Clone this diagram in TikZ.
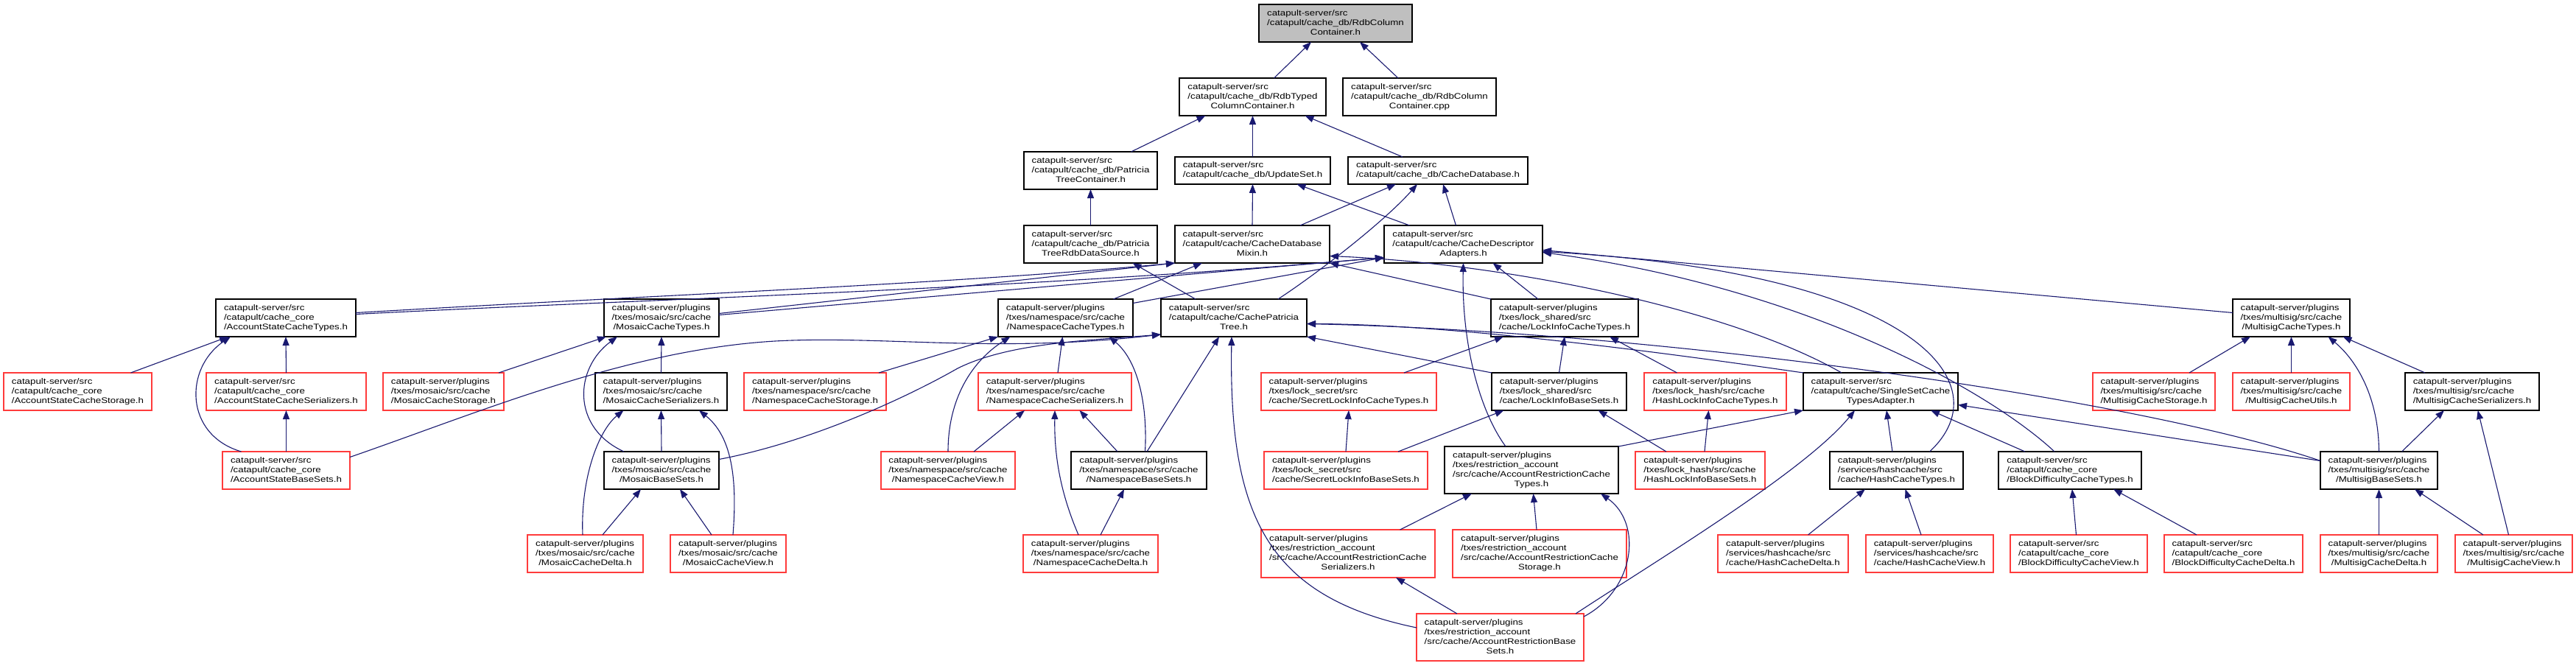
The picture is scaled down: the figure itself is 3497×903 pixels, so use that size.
\documentclass[tikz,border=0pt]{standalone}
\usepackage{fontspec}
\setmainfont{Liberation Sans}[FakeStretch=1.21]
\usetikzlibrary{arrows.meta}
\definecolor{edgeblue}{HTML}{191970}
\definecolor{boxred}{HTML}{FF3B3B}
\definecolor{grayfill}{HTML}{BFBFBF}
\newcommand\lbl[2]{\begin{tabular}{@{}l@{}}#1\\\multicolumn{1}{@{}c@{}}{#2}\end{tabular}}
\newcommand\dnode[7]{\node[#1,minimum width={(#4)-(#3)},minimum height={(#6)-(#5)}] (#2) at ({((#3)+(#4))/2},{((#5)+(#6))/2}) {#7};}
\tikzset{
  nb/.style={draw=black, fill=white, line width=1.3pt, inner sep=0pt, outer sep=0pt, font=\fontsize{11}{13}\selectfont},
  nr/.style={nb, draw=boxred},
  ng/.style={nb, fill=grayfill},
  dep/.style={draw=edgeblue, line width=1.1pt, -{Triangle[length=12pt,width=9pt]}}
}
\begin{document}
\begin{tikzpicture}[x=1pt,y=-1pt]
\useasboundingbox[fill=white] (0,0) rectangle (3497,903);
% row 1-4
\dnode{ng}{A}{1709}{1917}{6}{57}{\lbl{catapult-server/src\\/catapult/cache\_db/RdbColumn}{Container.h}}
\dnode{nb}{B}{1601}{1800}{106}{157}{\lbl{catapult-server/src\\/catapult/cache\_db/RdbTyped}{ColumnContainer.h}}
\dnode{nb}{C}{1823}{2031}{106}{157}{\lbl{catapult-server/src\\/catapult/cache\_db/RdbColumn}{Container.cpp}}
\dnode{nb}{D}{1390}{1571}{206}{257}{\lbl{catapult-server/src\\/catapult/cache\_db/Patricia}{TreeContainer.h}}
\dnode{nb}{E}{1595}{1806}{213}{250}{\lbl{catapult-server/src}{/catapult/cache\_db/UpdateSet.h}}
\dnode{nb}{F}{1830}{2074}{213}{250}{\lbl{catapult-server/src}{/catapult/cache\_db/CacheDatabase.h}}
\dnode{nb}{G}{1390}{1571}{306}{357}{\lbl{catapult-server/src\\/catapult/cache\_db/Patricia}{TreeRdbDataSource.h}}
\dnode{nb}{H}{1595}{1805}{306}{357}{\lbl{catapult-server/src\\/catapult/cache/CacheDatabase}{Mixin.h}}
\dnode{nb}{I}{1879}{2094}{306}{357}{\lbl{catapult-server/src\\/catapult/cache/CacheDescriptor}{Adapters.h}}
% row 5
\dnode{nb}{J}{293}{483}{406}{457}{\lbl{catapult-server/src\\/catapult/cache\_core}{/AccountStateCacheTypes.h}}
\dnode{nb}{K}{820}{976}{406}{457}{\lbl{catapult-server/plugins\\/txes/mosaic/src/cache}{/MosaicCacheTypes.h}}
\dnode{nb}{L}{1355}{1538}{406}{457}{\lbl{catapult-server/plugins\\/txes/namespace/src/cache}{/NamespaceCacheTypes.h}}
\dnode{nb}{M}{1576}{1774}{406}{457}{\lbl{catapult-server/src\\/catapult/cache/CachePatricia}{Tree.h}}
\dnode{nb}{N}{2024}{2224}{406}{457}{\lbl{catapult-server/plugins\\/txes/lock\_shared/src}{/cache/LockInfoCacheTypes.h}}
\dnode{nb}{O}{3031}{3190}{406}{457}{\lbl{catapult-server/plugins\\/txes/multisig/src/cache}{/MultisigCacheTypes.h}}
% row 6
\dnode{nr}{P}{5}{206}{506}{557}{\lbl{catapult-server/src\\/catapult/cache\_core}{/AccountStateCacheStorage.h}}
\dnode{nr}{Q}{280}{497}{506}{557}{\lbl{catapult-server/src\\/catapult/cache\_core}{/AccountStateCacheSerializers.h}}
\dnode{nr}{R}{520}{684}{506}{557}{\lbl{catapult-server/plugins\\/txes/mosaic/src/cache}{/MosaicCacheStorage.h}}
\dnode{nb}{S}{808}{987}{506}{557}{\lbl{catapult-server/plugins\\/txes/mosaic/src/cache}{/MosaicCacheSerializers.h}}
\dnode{nr}{T}{1010}{1203}{506}{557}{\lbl{catapult-server/plugins\\/txes/namespace/src/cache}{/NamespaceCacheStorage.h}}
\dnode{nr}{U}{1328}{1536}{506}{557}{\lbl{catapult-server/plugins\\/txes/namespace/src/cache}{/NamespaceCacheSerializers.h}}
\dnode{nr}{V}{1712}{1950}{506}{557}{\lbl{catapult-server/plugins\\/txes/lock\_secret/src}{/cache/SecretLockInfoCacheTypes.h}}
\dnode{nb}{W}{2025}{2208}{506}{557}{\lbl{catapult-server/plugins\\/txes/lock\_shared/src}{/cache/LockInfoBaseSets.h}}
\dnode{nr}{X}{2232}{2425}{506}{557}{\lbl{catapult-server/plugins\\/txes/lock\_hash/src/cache}{/HashLockInfoCacheTypes.h}}
\dnode{nb}{Y}{2448}{2658}{506}{557}{\lbl{catapult-server/src\\/catapult/cache/SingleSetCache}{TypesAdapter.h}}
\dnode{nr}{Z}{2841}{3007}{506}{557}{\lbl{catapult-server/plugins\\/txes/multisig/src/cache}{/MultisigCacheStorage.h}}
\dnode{nr}{AA}{3031}{3190}{506}{557}{\lbl{catapult-server/plugins\\/txes/multisig/src/cache}{/MultisigCacheUtils.h}}
\dnode{nb}{AB}{3265}{3447}{506}{557}{\lbl{catapult-server/plugins\\/txes/multisig/src/cache}{/MultisigCacheSerializers.h}}
% row 7
\dnode{nr}{AC}{302}{475}{613}{664}{\lbl{catapult-server/src\\/catapult/cache\_core}{/AccountStateBaseSets.h}}
\dnode{nb}{AD}{820}{976}{613}{664}{\lbl{catapult-server/plugins\\/txes/mosaic/src/cache}{/MosaicBaseSets.h}}
\dnode{nr}{AE}{1196}{1378}{613}{664}{\lbl{catapult-server/plugins\\/txes/namespace/src/cache}{/NamespaceCacheView.h}}
\dnode{nb}{AF}{1454}{1638}{613}{664}{\lbl{catapult-server/plugins\\/txes/namespace/src/cache}{/NamespaceBaseSets.h}}
\dnode{nr}{AG}{1716}{1938}{613}{664}{\lbl{catapult-server/plugins\\/txes/lock\_secret/src}{/cache/SecretLockInfoBaseSets.h}}
\dnode{nb}{AH}{1961}{2197}{606}{670}{\lbl{catapult-server/plugins\\/txes/restriction\_account\\/src/cache/AccountRestrictionCache}{Types.h}}
\dnode{nr}{AI}{2220}{2396}{613}{664}{\lbl{catapult-server/plugins\\/txes/lock\_hash/src/cache}{/HashLockInfoBaseSets.h}}
\dnode{nb}{AJ}{2484}{2665}{613}{664}{\lbl{catapult-server/plugins\\/services/hashcache/src}{/cache/HashCacheTypes.h}}
\dnode{nb}{AK}{2713}{2907}{613}{664}{\lbl{catapult-server/src\\/catapult/cache\_core}{/BlockDifficultyCacheTypes.h}}
\dnode{nb}{AL}{3150}{3309}{613}{664}{\lbl{catapult-server/plugins\\/txes/multisig/src/cache}{/MultisigBaseSets.h}}
% row 8
\dnode{nr}{AM}{716}{873}{726}{777}{\lbl{catapult-server/plugins\\/txes/mosaic/src/cache}{/MosaicCacheDelta.h}}
\dnode{nr}{AN}{910}{1067}{726}{777}{\lbl{catapult-server/plugins\\/txes/mosaic/src/cache}{/MosaicCacheView.h}}
\dnode{nr}{AO}{1389}{1572}{726}{777}{\lbl{catapult-server/plugins\\/txes/namespace/src/cache}{/NamespaceCacheDelta.h}}
\dnode{nr}{AP}{1712}{1948}{719}{784}{\lbl{catapult-server/plugins\\/txes/restriction\_account\\/src/cache/AccountRestrictionCache}{Serializers.h}}
\dnode{nr}{AQ}{1972}{2208}{719}{784}{\lbl{catapult-server/plugins\\/txes/restriction\_account\\/src/cache/AccountRestrictionCache}{Storage.h}}
\dnode{nr}{AR}{2332}{2509}{726}{777}{\lbl{catapult-server/plugins\\/services/hashcache/src}{/cache/HashCacheDelta.h}}
\dnode{nr}{AS}{2533}{2706}{726}{777}{\lbl{catapult-server/plugins\\/services/hashcache/src}{/cache/HashCacheView.h}}
\dnode{nr}{AT}{2729}{2915}{726}{777}{\lbl{catapult-server/src\\/catapult/cache\_core}{/BlockDifficultyCacheView.h}}
\dnode{nr}{AU}{2938}{3126}{726}{777}{\lbl{catapult-server/src\\/catapult/cache\_core}{/BlockDifficultyCacheDelta.h}}
\dnode{nr}{AV}{3150}{3309}{726}{777}{\lbl{catapult-server/plugins\\/txes/multisig/src/cache}{/MultisigCacheDelta.h}}
\dnode{nr}{AW}{3333}{3492}{726}{777}{\lbl{catapult-server/plugins\\/txes/multisig/src/cache}{/MultisigCacheView.h}}
% row 9
\dnode{nr}{AX}{1923}{2150}{833}{897}{\lbl{catapult-server/plugins\\/txes/restriction\_account\\/src/cache/AccountRestrictionBase}{Sets.h}}

% ---------- edges (child -> parent) ----------
\draw[dep] ([xshift=29]B.north) -- ([xshift=-33]A.south);
\draw[dep] ([xshift=-29]C.north) -- ([xshift=33]A.south);
\draw[dep] ([xshift=55]D.north) -- ([xshift=-64]B.south);
\draw[dep] (E.north) -- (B.south);
\draw[dep] ([xshift=-48]F.north) -- ([xshift=71]B.south);
\draw[dep] (G.north) -- (D.south);
\draw[dep] (H.north) -- (E.south);
\draw[dep] ([xshift=-73]I.north) -- ([xshift=60]E.south);
\draw[dep] ([xshift=65]H.north) -- ([xshift=-57]F.south);
\draw[dep] ([xshift=-10]I.north) -- ([xshift=7]F.south);
\draw[dep] ([xshift=60]M.north) .. controls (1790,370) and (1880,300) .. ([xshift=-28]F.south);
\draw[dep] ([xshift=-52]M.north) -- ([xshift=57]G.south);
% into H and I from row 5
\draw[dep] ([yshift=7]J.east) .. controls (900,400) and (1300,385) .. (H.south west);
\draw[dep] ([yshift=5]J.east) .. controls (900,405) and (1400,392) .. ([yshift=-18]I.west);
\draw[dep] ([yshift=6]K.east) -- (H.south west);
\draw[dep] ([yshift=4]K.east) -- ([yshift=-18]I.west);
\draw[dep] ([xshift=65]L.north) -- ([xshift=-68]H.south);
\draw[dep] ([yshift=20]L.east) -- ([yshift=-18]I.west);
\draw[dep] (N.north west) -- (H.south east);
\draw[dep] ([xshift=-53]Y.north) .. controls (2350,420) and (2050,358) .. ([yshift=-16]H.east);
\draw[dep] ([xshift=-36]N.north) -- ([xshift=40]I.south);
\draw[dep] ([xshift=-35]AH.north) .. controls (2010,560) and (1984,470) .. (I.south);
\draw[dep] ([yshift=7]O.west) -- ([yshift=-8]I.east);
\draw[dep] ([xshift=45]AJ.north) .. controls (2720,520) and (2600,370) .. ([yshift=-10]I.east);
\draw[dep] ([xshift=-21]AK.north) .. controls (2700,530) and (2450,390) .. ([yshift=-11]I.east);
% into M
\draw[dep] ([yshift=18]AC.east) .. controls (650,560) and (850,475) .. (1052,463) .. controls (1200,455) and (1350,480) .. ([yshift=3]M.south west);
\draw[dep] ([yshift=15]AD.east) .. controls (1100,600) and (1230,540) .. (1300,500) .. controls (1370,465) and (1480,462) .. ([yshift=3]M.south west);
\draw[dep] ([xshift=11]AF.north) -- ([xshift=-20]M.south);
\draw[dep] ([yshift=13]AX.west) .. controls (1720,810) and (1668,700) .. ([xshift=-3]M.south);
\draw[dep] (W.north west) -- (M.south east);
\draw[dep] (Y.north west) .. controls (2200,470) and (1950,440) .. ([yshift=-8]M.east);
\draw[dep] ([yshift=13]AL.west) .. controls (2900,540) and (2250,450) .. ([yshift=-8]M.east);
\draw[dep] ([yshift=13]AL.west) -- ([yshift=-18]Y.east);
% lock info
\draw[dep] ([xshift=75]V.north) -- ([xshift=-83]N.south);
\draw[dep] (W.north) -- (N.south);
\draw[dep] ([xshift=-52]X.north) -- ([xshift=61]N.south);
\draw[dep] (AG.north) -- (V.south);
\draw[dep] ([xshift=71]AG.north) -- ([xshift=-75]W.south);
\draw[dep] ([xshift=-46]AI.north) -- ([xshift=53]W.south);
\draw[dep] ([xshift=6]AI.north) -- ([xshift=-9]X.south);
% account state
\draw[dep] ([xshift=72]P.north) -- ([xshift=-78]J.south);
\draw[dep] (Q.north) -- (J.south);
\draw[dep] ([xshift=-61]AC.north) .. controls (250,590) and (250,500) .. ([xshift=-75]J.south);
\draw[dep] (AC.north) -- (Q.south);
% mosaic
\draw[dep] ([xshift=75]R.north) -- ([xshift=3]K.south west);
\draw[dep] (S.north) -- (K.south);
\draw[dep] ([xshift=-51]AD.north) .. controls (775,580) and (780,500) .. ([xshift=-60]K.south);
\draw[dep] (AD.north) -- (S.south);
\draw[dep] ([xshift=6.5]AN.north) .. controls (1002,640) and (990,590) .. ([xshift=51.5]S.south);
\draw[dep] ([xshift=-3.5]AM.north) .. controls (788,650) and (812,585) .. ([xshift=-51]S.south);
\draw[dep] ([xshift=23.5]AM.north) -- ([xshift=-28]AD.south);
\draw[dep] ([xshift=-22.5]AN.north) -- ([xshift=25]AD.south);
% namespace
\draw[dep] ([xshift=86.5]T.north) -- (L.south west);
\draw[dep] ([xshift=4]U.north) -- ([xshift=-4]L.south);
\draw[dep] (AE.north) .. controls (1287,540) and (1320,490) .. ([xshift=-75]L.south);
\draw[dep] ([xshift=8.5]AF.north) .. controls (1558,550) and (1545,490) .. ([xshift=59]L.south);
\draw[dep] ([xshift=35]AE.north) -- ([xshift=-41]U.south);
\draw[dep] ([xshift=-29]AF.north) -- ([xshift=33.5]U.south);
\draw[dep] ([xshift=-16.5]AO.north) .. controls (1440,670) and (1431,620) .. (U.south);
\draw[dep] ([xshift=13.5]AO.north) -- ([xshift=-20]AF.south);
% account restriction
\draw[dep] ([xshift=70.6]AP.north) -- ([xshift=-81]AH.south);
\draw[dep] ([xshift=-4]AQ.north) -- ([xshift=2.5]AH.south);
\draw[dep] ([yshift=-4]AX.north east) .. controls (2220,800) and (2230,710) .. ([xshift=94]AH.south);
\draw[dep] ([xshift=-58.5]AX.north) -- ([xshift=65]AP.south);
\draw[dep] (AH.north east) -- (Y.south west);
\draw[dep] ([xshift=102.5]AX.north) .. controls (2250,760) and (2450,640) .. ([xshift=-35]Y.south);
% single set / hash / block difficulty
\draw[dep] ([xshift=-5.5]AJ.north) -- ([xshift=8]Y.south);
\draw[dep] ([xshift=-61]AK.north) -- ([xshift=68]Y.south);
\draw[dep] ([xshift=34]AR.north) -- ([xshift=-42.5]AJ.south);
\draw[dep] ([xshift=-11.5]AS.north) -- ([xshift=12]AJ.south);
\draw[dep] ([xshift=-3.5]AT.north) -- ([xshift=3]AK.south);
\draw[dep] ([xshift=-50]AU.north) -- ([xshift=59]AK.south);
% multisig
\draw[dep] (AV.north) -- (AL.south);
\draw[dep] ([xshift=-41.5]AW.north) -- ([xshift=48.5]AL.south);
\draw[dep] ([xshift=48]Z.north) -- ([xshift=-55.5]O.south);
\draw[dep] (AA.north) -- (O.south);
\draw[dep] (AL.north) .. controls (3229,540) and (3200,490) .. ([xshift=50]O.south);
\draw[dep] ([xshift=-64]AB.north) -- ([xshift=70]O.south);
\draw[dep] ([xshift=31]AL.north) -- ([xshift=-38]AB.south);
\draw[dep] ([xshift=-7]AW.north) -- ([xshift=7.7]AB.south);
\end{tikzpicture}
\end{document}
